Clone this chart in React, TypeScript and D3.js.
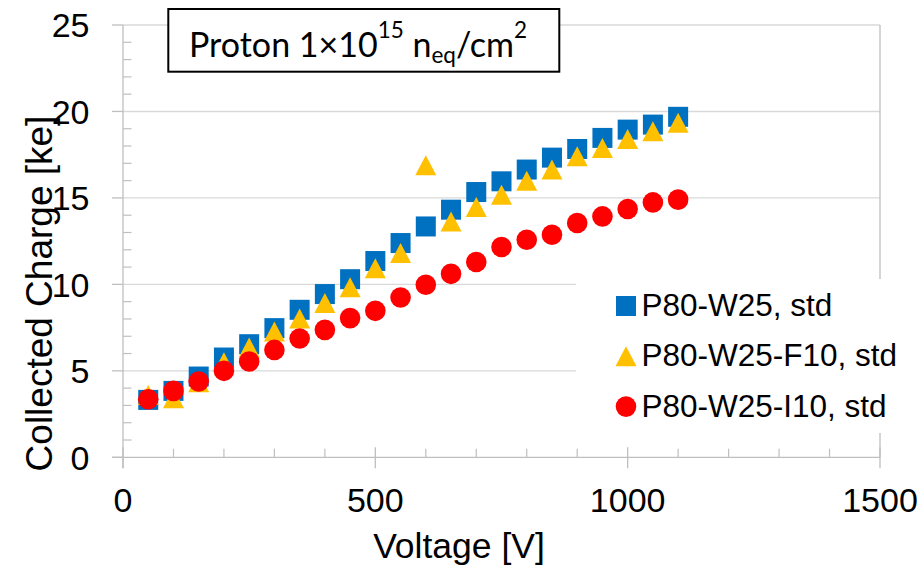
import React from "react";
import * as d3 from "d3";

const voltages = [50, 100, 150, 200, 250, 300, 350, 400, 450, 500, 550, 600, 650, 700, 750, 800, 850, 900, 950, 1000, 1050, 1100];
const seriesStd = [3.32, 3.84, 4.67, 5.77, 6.54, 7.47, 8.53, 9.44, 10.3, 11.35, 12.39, 13.35, 14.32, 15.34, 15.96, 16.64, 17.33, 17.83, 18.47, 18.95, 19.24, 19.69];
const seriesF10 = [3.6, 3.41, 4.34, 5.5, 6.35, 7.27, 8.03, 8.93, 9.84, 10.94, 11.81, 16.89, 13.64, 14.47, 15.19, 16.0, 16.64, 17.41, 17.89, 18.41, 18.86, 19.34];
const seriesI10 = [3.36, 3.84, 4.38, 5.0, 5.54, 6.21, 6.87, 7.37, 8.05, 8.47, 9.24, 9.98, 10.61, 11.29, 12.16, 12.58, 12.87, 13.55, 13.93, 14.36, 14.74, 14.9];
const legendLabels = ["P80-W25, std", "P80-W25-F10, std", "P80-W25-I10, std"];
const yTicks = [0, 5, 10, 15, 20, 25];
const xTicks = [0, 500, 1000, 1500];

const BLUE = "#0070C0";
const YELLOW = "#FFC000";
const RED = "#FF0000";
const FONT = "'Liberation Sans', Arial, sans-serif";

const x = d3.scaleLinear().domain([0, 1500]).range([123, 880]);
const y = d3.scaleLinear().domain([0, 25]).range([457.3, 25]);

const tri = (cx: number, cy: number, s = 10) => `M${cx},${cy - s}L${cx + s + 0.5},${cy + s}L${cx - s - 0.5},${cy + s}Z`;

export default function App() {
  const minorY = d3.range(0, 26, 1).filter((v) => v % 5 !== 0);
  const minorX = d3.range(0, 1501, 100).filter((v) => v % 500 !== 0);
  const axisCol = "#bfbfbf";
  const gridCol = "#d9d9d9";
  return (
    <svg width={924} height={567} style={{ position: "absolute", left: 0, top: 0, background: "#fff" }}>
      {/* gridlines */}
      {yTicks.filter((v) => v > 0).map((v) => (
        <line key={"g" + v} x1={x(0)} x2={x(1500)} y1={y(v)} y2={y(v)} stroke={gridCol} strokeWidth={1.4} />
      ))}
      {/* right border */}
      <line x1={x(1500)} x2={x(1500)} y1={y(25)} y2={y(0)} stroke={axisCol} strokeWidth={1.3} />
      {/* y axis */}
      <line x1={x(0)} x2={x(0)} y1={y(25)} y2={y(0) + 11} stroke={axisCol} strokeWidth={1.3} />
      {yTicks.map((v) => (
        <line key={"ym" + v} x1={x(0) - 11} x2={x(0)} y1={y(v)} y2={y(v)} stroke={axisCol} strokeWidth={1.3} />
      ))}
      {minorY.map((v) => (
        <line key={"yn" + v} x1={x(0)} x2={x(0) + 8.5} y1={y(v)} y2={y(v)} stroke={axisCol} strokeWidth={1.2} />
      ))}
      {/* x axis */}
      <line x1={x(0) - 11} x2={x(1500)} y1={y(0)} y2={y(0)} stroke={axisCol} strokeWidth={1.3} />
      {xTicks.map((v) => (
        <line key={"xm" + v} x1={x(v)} x2={x(v)} y1={y(0) - 10} y2={y(0) + 11} stroke={axisCol} strokeWidth={1.3} />
      ))}
      {minorX.map((v) => (
        <line key={"xn" + v} x1={x(v)} x2={x(v)} y1={y(0) - 8.5} y2={y(0)} stroke={axisCol} strokeWidth={1.2} />
      ))}
      {/* tick labels */}
      {yTicks.map((v) => (
        <text key={"yl" + v} x={89.5} y={y(v) + 12.3} textAnchor="end" fontFamily={FONT} fontSize={34} fill="#000">{v}</text>
      ))}
      {xTicks.map((v) => (
        <text key={"xl" + v} x={x(v)} y={512.3} textAnchor="middle" fontFamily={FONT} fontSize={34} fill="#000">{v}</text>
      ))}
      {/* axis titles */}
      <text x={459} y={558} textAnchor="middle" fontFamily={FONT} fontSize={35.5} fill="#000">Voltage [V]</text>
      <text transform={`translate(52,293.5) rotate(-90)`} textAnchor="middle" fontFamily={FONT} fontSize={37} fill="#000">Collected Charge [ke]</text>

      {/* data */}
      {voltages.map((v, i) => (
        <rect key={"b" + i} x={x(v) - 10} y={y(seriesStd[i]) - 10} width={20} height={20} fill={BLUE} />
      ))}
      {voltages.map((v, i) => (
        <path key={"t" + i} d={tri(x(v), y(seriesF10[i]))} fill={YELLOW} />
      ))}
      {voltages.map((v, i) => (
        <circle key={"c" + i} cx={x(v)} cy={y(seriesI10[i])} r={10.3} fill={RED} />
      ))}

      {/* legend */}
      <rect x={576} y={279} width={320} height={154} fill="#fff" />
      {legendLabels.map((lab, i) => {
        const cy = 306 + i * 50.3;
        return (
          <g key={"lg" + i}>
            {i === 0 && <rect x={616} y={cy - 10} width={20} height={20} fill={BLUE} />}
            {i === 1 && <path d={tri(626, cy)} fill={YELLOW} />}
            {i === 2 && <circle cx={626} cy={cy} r={10.3} fill={RED} />}
            <text x={641.5} y={cy + 10} fontFamily={FONT} fontSize={31.5} fill="#000">{lab}</text>
          </g>
        );
      })}

      {/* title box */}
      <rect x={168.3} y={9} width={391} height={62.7} fill="#fff" stroke="#000" strokeWidth={2} />
      <text x={189} y={56.7} fontFamily="Lato, 'Open Sans', sans-serif" fontSize={34} fill="#000">
        Proton 1×10
        <tspan dy={-19} fontSize={22.5}>15</tspan>
        <tspan dy={19}> n</tspan>
        <tspan dy={6.7} fontSize={22.5}>eq</tspan>
        <tspan dy={-6.7}>/cm</tspan>
        <tspan dy={-19} fontSize={22.5}>2</tspan>
      </text>
    </svg>
  );
}
